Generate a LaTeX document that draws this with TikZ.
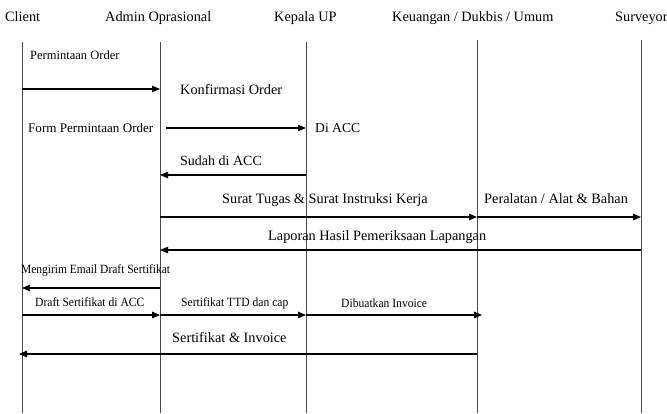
\documentclass[tikz,border=0pt]{standalone}
\usepackage{fontspec}
\setmainfont{Liberation Serif}
\usetikzlibrary{arrows.meta}
\begin{document}
\begin{tikzpicture}[x=1pt,y=-1pt,
  life/.style={draw=black!70, line width=0.9pt},
  msg/.style={draw=black, line width=1.1pt, -{Triangle[length=8pt,width=6.5pt]}},
  lbl/.style={anchor=base west, inner sep=0pt, font=\fontsize{14.3}{16}\selectfont},
  small/.style={anchor=base west, inner sep=0pt, transform shape, xscale=0.92,
    font=\fontsize{12.6}{14}\selectfont},
]
\useasboundingbox (0,0) rectangle (667,413);

% participant names
\node[lbl] (hClient) at (5,21.5) {Client};
\node[lbl] (hAdmin) at (105,21.5) {Admin Oprasional};
\node[lbl] (hKepala) at (274,21.5) {Kepala UP};
\node[lbl] (hKeu) at (392,21.5) {Keuangan / Dukbis / Umum};
\node[lbl] (hSurv) at (615,21.5) {Surveyor};

% lifelines
\coordinate (client) at (22,42);
\coordinate (admin) at (160,42);
\coordinate (kepala) at (306,42);
\coordinate (keu) at (477,40);
\coordinate (surv) at (641,40);
\coordinate (bottom) at (0,413);
\foreach \p in {client,admin,kepala,keu,surv}
  \draw[life] (\p) -- (\p |- bottom);

% message rows
\coordinate (r1) at (0,89);
\coordinate (r2) at (0,128);
\coordinate (r3) at (0,175);
\coordinate (r4) at (0,217);
\coordinate (r5) at (0,250);
\coordinate (r6) at (0,288);
\coordinate (r7) at (0,315);
\coordinate (r8) at (0,354);

% messages
\draw[msg] (client |- r1) -- (admin |- r1);
\draw[msg] ([xshift=6pt]admin |- r2) -- (kepala |- r2);
\draw[msg] (kepala |- r3) -- (admin |- r3);
\draw[msg] (admin |- r4) -- (keu |- r4);
\draw[msg] (keu |- r4) -- (surv |- r4);
\draw[msg] (surv |- r5) -- (admin |- r5);
\draw[msg] (admin |- r6) -- (client |- r6);
\draw[msg] (client |- r7) -- (admin |- r7);
\draw[msg] (admin |- r7) -- (kepala |- r7);
\draw[msg] (kepala |- r7) -- ([xshift=5pt]keu |- r7);
\draw[msg] (keu |- r8) -- ([xshift=-3pt]client |- r8);

% message labels
\node[small, xscale=1.08, font=\fontsize{12.6}{14}\selectfont] (t1) at (30,59) {Permintaan Order};
\node[lbl] (t2) at (180,94) {Konfirmasi Order};
\node[lbl, font=\fontsize{13.1}{15}\selectfont] (t3) at (28,132) {Form Permintaan Order};
\node[lbl, font=\fontsize{13.6}{15}\selectfont] (t4) at (315,132) {Di ACC};
\node[lbl, font=\fontsize{14}{16}\selectfont] (t5) at (180,165) {Sudah di ACC};
\node[lbl] (t6) at (222,203) {Surat Tugas \& Surat Instruksi Kerja};
\node[lbl] (t7) at (484,203) {Peralatan / Alat \& Bahan};
\node[lbl] (t8) at (268,240) {Laporan Hasil Pemeriksaan Lapangan};
\node[small, xscale=0.99] (t9) at (21,273) {Mengirim Email Draft Sertifikat};
\node[small] (t10) at (35,306) {Draft Sertifikat di ACC};
\node[small] (t11) at (181,306) {Sertifikat TTD dan cap};
\node[small] (t12) at (341,307) {Dibuatkan Invoice};
\node[lbl] (t13) at (172,342) {Sertifikat \& Invoice};
\end{tikzpicture}
\end{document}
